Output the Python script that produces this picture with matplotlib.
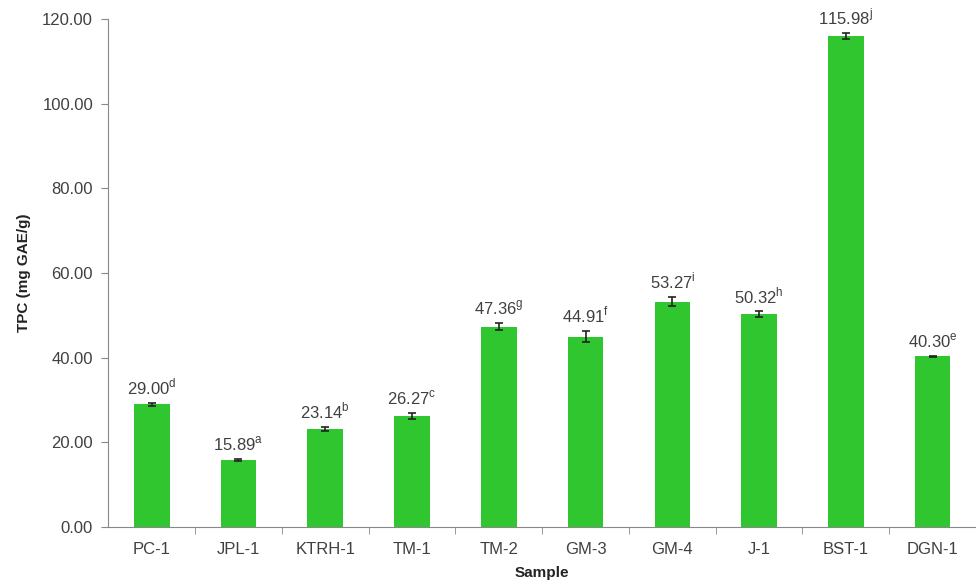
import numpy as np
import matplotlib
matplotlib.use("Agg")
import matplotlib.pyplot as plt

plt.rcParams['font.family'] = ['Liberation Sans', 'DejaVu Sans']
plt.rcParams['mathtext.fontset'] = 'custom'
plt.rcParams['mathtext.rm'] = 'Liberation Sans'

# Total phenolic content per sample
samples = ["PC-1", "JPL-1", "KTRH-1", "TM-1", "TM-2", "GM-3", "GM-4", "J-1", "BST-1", "DGN-1"]
tpc = [29.00, 15.89, 23.14, 26.27, 47.36, 44.91, 53.27, 50.32, 115.98, 40.30]
tpc_sd = [0.3, 0.2, 0.4, 0.7, 0.9, 1.3, 1.0, 0.6, 0.8, 0.2]
letters = ["d", "a", "b", "c", "g", "f", "i", "h", "j", "e"]

green = "#2fc62f"
grey = "#404040"

fig = plt.figure(figsize=(9.76, 5.85), dpi=100)
ax = fig.add_axes([0.111, 0.099, 0.889, 0.8685])

x = np.arange(len(samples))
ax.bar(x, tpc, width=0.41, color=green, zorder=2)
ax.errorbar(x, tpc, yerr=tpc_sd, fmt="none", ecolor="#222222",
            elinewidth=1.2, capsize=3, capthick=1.2, zorder=3)

for xi, v, sd, let in zip(x, tpc, tpc_sd, letters):
    ax.annotate(f"{v:.2f}$^{{\\mathrm{{{let}}}}}$", (xi, v + sd),
                xytext=(0, 4), textcoords="offset points",
                ha="center", va="bottom", fontsize=12, color=grey)

ax.set_xlim(-0.5, len(samples) - 0.5)
ax.set_ylim(0, 120)
ax.set_yticks(np.arange(0, 121, 20))
ax.set_yticklabels([f"{t:.2f}" for t in np.arange(0, 121, 20)])
ax.set_xticks(x)
ax.set_xticklabels(samples)
ax.set_xticks(np.arange(0.5, len(samples) - 0.5, 1), minor=True)
ax.tick_params(axis="x", which="major", length=0, pad=11, labelsize=12, labelcolor=grey)
ax.tick_params(axis="x", which="minor", length=5, color="#888888")
ax.tick_params(axis="y", length=5, color="#888888", labelsize=12, labelcolor=grey, pad=6)

for s in ["top", "right"]:
    ax.spines[s].set_visible(False)
for s in ["left", "bottom"]:
    ax.spines[s].set_color("#888888")

ax.set_xlabel("Sample", fontsize=11, fontweight="bold", color="#222222", labelpad=6)
ax.set_ylabel("TPC (mg GAE/g)", fontsize=11, fontweight="bold", color="#222222", labelpad=8)

fig.savefig("out.png", dpi=100)
